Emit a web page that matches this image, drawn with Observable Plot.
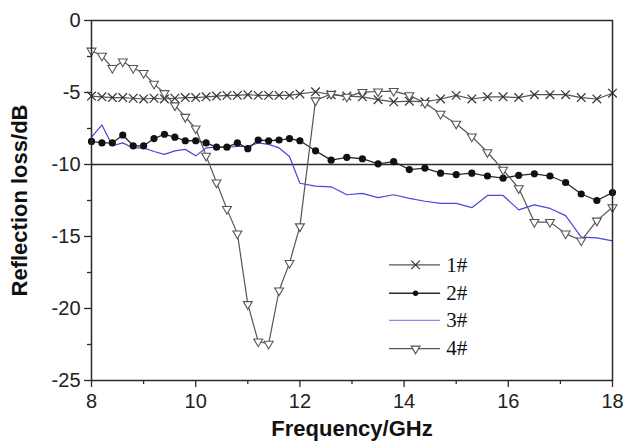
<!DOCTYPE html>
<html><head><meta charset="utf-8">
<script src="https://cdn.jsdelivr.net/npm/d3@7"></script>
<script src="https://cdn.jsdelivr.net/npm/@observablehq/plot@0.6"></script>
<style>
html,body{margin:0;padding:0;background:#fff}
#chart svg{display:block}
</style>
</head><body><div id="chart"></div>
<script>
// ---- data ----
const freq = [8.0,8.2,8.4,8.6,8.8,9.0,9.2,9.4,9.6,9.8,10.0,10.2,10.4,10.6,10.8,11.0,11.2,11.4,11.6,11.8,12.0,
              12.3,12.6,12.9,13.2,13.5,13.8,14.1,14.4,14.7,15.0,15.3,15.6,15.9,16.2,16.5,16.8,17.1,17.4,17.7,18.0];
const s1 = [-5.25,-5.3,-5.35,-5.35,-5.4,-5.45,-5.4,-5.45,-5.4,-5.35,-5.35,-5.3,-5.25,-5.2,-5.2,-5.15,-5.2,-5.2,-5.2,-5.2,-5.1,
            -4.95,-5.15,-5.25,-5.3,-5.5,-5.65,-5.6,-5.65,-5.45,-5.2,-5.45,-5.3,-5.3,-5.35,-5.15,-5.15,-5.15,-5.35,-5.45,-5.05];
const s2 = [-8.4,-8.5,-8.5,-7.95,-8.7,-8.7,-8.2,-7.9,-8.1,-8.35,-8.35,-8.5,-8.8,-8.8,-8.5,-8.9,-8.3,-8.35,-8.3,-8.2,-8.35,
            -9.05,-9.7,-9.5,-9.6,-9.95,-9.8,-10.35,-10.25,-10.6,-10.7,-10.6,-10.8,-10.95,-10.75,-10.65,-10.8,-11.25,-12.05,-12.5,-11.95];
const s3 = [-8.1,-7.25,-8.7,-8.5,-8.85,-8.85,-9.1,-9.3,-9.05,-8.95,-9.4,-8.85,-8.8,-8.8,-8.75,-8.75,-8.5,-8.6,-8.85,-9.45,-11.3,
            -11.5,-11.55,-12.1,-12.0,-12.3,-12.1,-12.35,-12.55,-12.7,-12.7,-13.0,-12.15,-12.15,-13.15,-12.8,-13.05,-13.55,-15.05,-15.1,-15.3];
const s4 = [-2.1,-2.45,-3.3,-2.85,-3.3,-3.65,-4.4,-5.05,-5.9,-6.7,-7.5,-9.4,-11.25,-13.1,-14.8,-19.7,-22.3,-22.45,-18.75,-16.85,-14.3,
            -5.55,-5.1,-5.3,-4.97,-4.93,-4.9,-5.2,-5.73,-6.48,-7.17,-8.06,-9.15,-10.37,-11.65,-14.0,-14.0,-14.8,-15.28,-13.9,-12.97];
const seriesNames = ["1#","2#","3#","4#"];
const xTicks = [8,10,12,14,16,18];
const xMinor = [9,11,13,15,17];
const yTicks = [0,-5,-10,-15,-20,-25];
const yMinor = [-2.5,-7.5,-12.5,-17.5,-22.5];
const refLevel = [-10];
const xLabel = "Frequency/GHz";
const yLabel = "Reflection loss/dB";

// ---- styling ----
const gray = "#555";
const dark = "#2a2a2a";
const blue = "#4848dc";
const legendBlue = "#8a8ae6";

const rows = (vals, s) => freq.map((f, i) => ({f, v: vals[i], s}));
const d1 = rows(s1, seriesNames[0]);
const d2 = rows(s2, seriesNames[1]);
const d3r = rows(s3, seriesNames[2]);
const d4 = rows(s4, seriesNames[3]);

// downward triangle symbol
const triDown = {
  draw(ctx, size) {
    const s = Math.sqrt(size / (Math.sqrt(3) / 4));
    const h = s * Math.sqrt(3) / 2;
    ctx.moveTo(-s / 2, -h / 3);
    ctx.lineTo(s / 2, -h / 3);
    ctx.lineTo(0, 2 * h / 3);
    ctx.closePath();
  }
};

// legend placement (in data units, inside the frame)
const legX1 = 13.72, legX2 = 14.7, legXm = 14.22, legXt = 14.81;
const legYs = [-16.97, -18.94, -20.83, -22.79];
const legendRows = seriesNames.map((label, i) => ({label, y: legYs[i]}));

const chart = Plot.plot({
  width: 625,
  height: 447,
  marginLeft: 91,
  marginRight: 13,
  marginTop: 20,
  marginBottom: 67,
  style: {fontFamily: "'Liberation Sans', Arial, sans-serif", fontSize: "20px", color: "#222", background: "#fff"},
  x: {domain: [8, 18]},
  y: {domain: [-25, 0]},
  marks: [
    Plot.axisX({ticks: xTicks, tickSize: 7, tickPadding: 6, tickFormat: d => String(d), label: null, fontSize: 20, stroke: dark, strokeWidth: 1.3}),
    Plot.axisX({ticks: xMinor, tickSize: 4, tickFormat: () => "", label: null, stroke: dark, strokeWidth: 1.3}),
    Plot.axisY({ticks: yTicks, tickSize: 7, tickPadding: 4, tickFormat: d => String(d), label: null, fontSize: 20, stroke: dark, strokeWidth: 1.3}),
    Plot.axisY({ticks: yMinor, tickSize: 4, tickFormat: () => "", label: null, stroke: dark, strokeWidth: 1.3}),
    Plot.ruleY(refLevel, {stroke: dark, strokeWidth: 1.3}),
    Plot.line(d3r, {x: "f", y: "v", stroke: blue, strokeWidth: 1.2}),
    Plot.line(d2, {x: "f", y: "v", stroke: dark, strokeWidth: 1.3}),
    Plot.dot(d2, {x: "f", y: "v", r: 3.6, fill: "#111", stroke: "none"}),
    Plot.line(d1, {x: "f", y: "v", stroke: gray, strokeWidth: 1.2}),
    Plot.dot(d1, {x: "f", y: "v", symbol: "times", r: 4, stroke: "#333", strokeWidth: 1.2}),
    Plot.line(d4, {x: "f", y: "v", stroke: gray, strokeWidth: 1.2}),
    Plot.dot(d4, {x: "f", y: "v", symbol: triDown, r: 3.3, stroke: gray, fill: "white", strokeWidth: 1.1}),
    // legend
    Plot.ruleY([legendRows[0]], {x1: () => legX1, x2: () => legX2, y: "y", stroke: gray, strokeWidth: 1.3}),
    Plot.ruleY([legendRows[1]], {x1: () => legX1, x2: () => legX2, y: "y", stroke: dark, strokeWidth: 1.3}),
    Plot.ruleY([legendRows[2]], {x1: () => legX1, x2: () => legX2, y: "y", stroke: legendBlue, strokeWidth: 1.3}),
    Plot.ruleY([legendRows[3]], {x1: () => legX1, x2: () => legX2, y: "y", stroke: gray, strokeWidth: 1.3}),
    Plot.dot([legendRows[0]], {x: () => legXm, y: "y", symbol: "times", r: 4, stroke: "#333", strokeWidth: 1.2}),
    Plot.dot([legendRows[1]], {x: () => legXm, y: "y", r: 2.7, fill: "#111", stroke: "none"}),
    Plot.dot([legendRows[3]], {x: () => legXm, y: "y", symbol: triDown, r: 3.3, stroke: gray, fill: "white", strokeWidth: 1.1}),
    Plot.text(legendRows, {x: () => legXt, y: "y", text: "label", textAnchor: "start", fontFamily: "'Liberation Serif', 'Times New Roman', serif", fontSize: 21, fill: "#111"}),
    // axis titles
    Plot.text([xLabel], {frameAnchor: "bottom", dy: 55, text: d => d, textAnchor: "middle", fontWeight: "bold", fontSize: 22, fill: "#111"}),
    Plot.text([yLabel], {frameAnchor: "left", dx: -72, rotate: -90, text: d => d, textAnchor: "middle", fontWeight: "bold", fontSize: 22, fill: "#111"}),
    Plot.frame({stroke: dark, strokeWidth: 1.5})
  ]
});
document.getElementById("chart").appendChild(chart);
</script>
</body></html>
